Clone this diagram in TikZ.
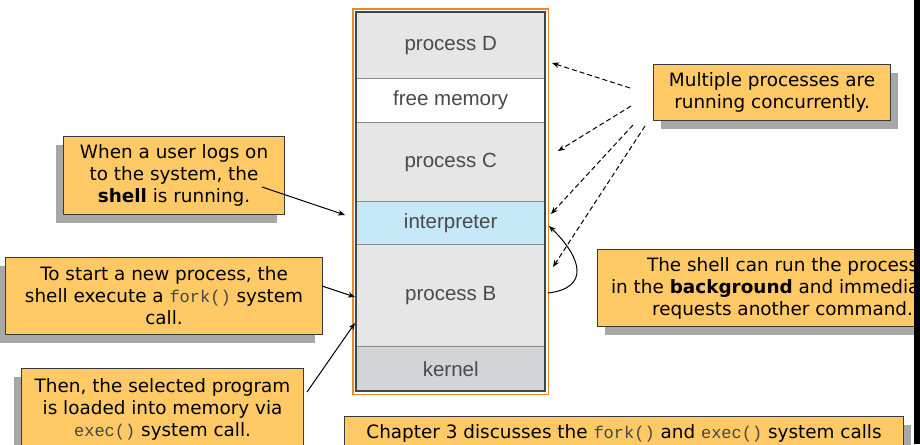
\documentclass[tikz,border=0pt]{standalone}
\usepackage{fontspec}
\setmainfont{DejaVu Sans}
\setmonofont{Liberation Mono}
\newfontfamily\memfont{Liberation Sans}
\usetikzlibrary{arrows.meta,shadows}

\definecolor{notefill}{HTML}{FFCA66}
\definecolor{noteedge}{HTML}{3A3A3A}
\definecolor{shade}{HTML}{A8A8A8}
\definecolor{procfill}{HTML}{E6E6E6}
\definecolor{interfill}{HTML}{C6E8F8}
\definecolor{kernfill}{HTML}{D2D5D8}
\definecolor{rowedge}{HTML}{8C8C8C}
\definecolor{memtext}{HTML}{4A4A4A}
\definecolor{frameorange}{HTML}{E8892B}
\definecolor{framedark}{HTML}{454545}

\newcommand{\notefont}{\fontsize{18.4}{22}\selectfont}
\newcommand{\monotext}[1]{{\ttfamily\fontsize{17}{22}\selectfont\color{framedark}#1}}

\begin{document}
\begin{tikzpicture}[x=1pt,y=-1pt,
  note/.style={draw=noteedge, line width=1.1pt, fill=notefill, inner sep=0pt,
    align=center, font=\notefont, text=black, anchor=north west},
  shadowleft/.style={drop shadow={shadow xshift=-8pt, shadow yshift=-8pt, fill=shade, opacity=1}},
  shadowright/.style={drop shadow={shadow xshift=7pt, shadow yshift=-8pt, fill=shade, opacity=1}},
  memrow/.style={draw=rowedge, line width=1.4pt, minimum width=188pt, inner sep=0pt,
    anchor=north west, font=\memfont\fontsize{20.5}{24}\selectfont, text=memtext},
  pointer/.style={-{Stealth[length=7pt,width=5.5pt]}, line width=1pt, black},
  dpointer/.style={pointer, dash pattern=on 5pt off 3pt}
]
\useasboundingbox (0,0) rectangle (920,444);
\fill[white] (0,0) rectangle (920,444);

% memory layout column
\node[memrow, fill=procfill,  minimum height=66pt]  (pD)  at (356,12)  {process D};
\node[memrow, fill=white,     minimum height=44pt]  (fm)  at (356,78)  {free memory};
\node[memrow, fill=procfill,  minimum height=79pt]  (pC)  at (356,122) {process C};
\node[memrow, fill=interfill, minimum height=43pt]  (it)  at (356,201) {interpreter};
\node[memrow, fill=procfill,  minimum height=102pt] (pB)  at (356,244) {process B};
\node[memrow, fill=kernfill,  minimum height=44pt]  (ker) at (356,346) {kernel};
\draw[framedark, line width=2pt] (pD.north west) rectangle (ker.south east);
\draw[frameorange, line width=1.6pt] ([shift={(-3pt,3pt)}]pD.north west) rectangle ([shift={(3pt,-3pt)}]ker.south east);

% callouts on the left
\node[note, shadowleft, minimum width=221pt, minimum height=78pt] (login) at (63,136)
  {When a user logs on\\to the system, the\\\textbf{shell} is running.};
\node[note, shadowleft, minimum width=317pt, minimum height=77pt] (forknote) at (5,257)
  {To start a new process, the\\shell execute a \monotext{fork()} system\\call.};
\node[note, shadowleft, minimum width=282pt, minimum height=81pt] (execnote) at (21,368)
  {Then, the selected program\\is loaded into memory via\\\monotext{exec()} system call.};

% callouts on the right
\node[note, shadowright, minimum width=237pt, minimum height=56pt] (multi) at (653,64)
  {Multiple processes are\\running concurrently.};
\node[note, shadowright, minimum width=370pt, minimum height=77pt] (bg) at (597,249)
  {The shell can run the process\\in the \textbf{background} and immediately\\requests another command.};
\node[note, shadowright, minimum width=559pt, minimum height=33pt] (chap) at (344,416)
  {Chapter 3 discusses the \monotext{fork()} and \monotext{exec()} system calls};

% connector end points
\coordinate (a1s) at (262,187);  \coordinate (a1e) at (345,215);
\coordinate (a2s) at (322,286);  \coordinate (a2e) at (355,297);
\coordinate (a3s) at (307,392);  \coordinate (a3e) at (355,323);
\coordinate (m1s) at (630,88);   \coordinate (m1e) at (552,63);
\coordinate (m2s) at (631,106);  \coordinate (m2e) at (558,151);
\coordinate (m3s) at (633,125);  \coordinate (m3e) at (551,214);
\coordinate (m4s) at (645,126);  \coordinate (m4e) at (553,267);
\coordinate (bgs) at (548,293);  \coordinate (bge) at (549,226);

\draw[pointer] (a1s) -- (a1e);
\draw[pointer] (a2s) -- (a2e);
\draw[pointer] (a3s) -- (a3e);
\draw[dpointer] (m1s) -- (m1e);
\draw[dpointer] (m2s) -- (m2e);
\draw[dpointer] (m3s) -- (m3e);
\draw[dpointer] (m4s) -- (m4e);
\draw[pointer] (bgs) .. controls (590,288) and (582,258) .. (bge);

% dark strip along the right edge
\fill[black] (913.5,0) rectangle (920,444);
\end{tikzpicture}
\end{document}
